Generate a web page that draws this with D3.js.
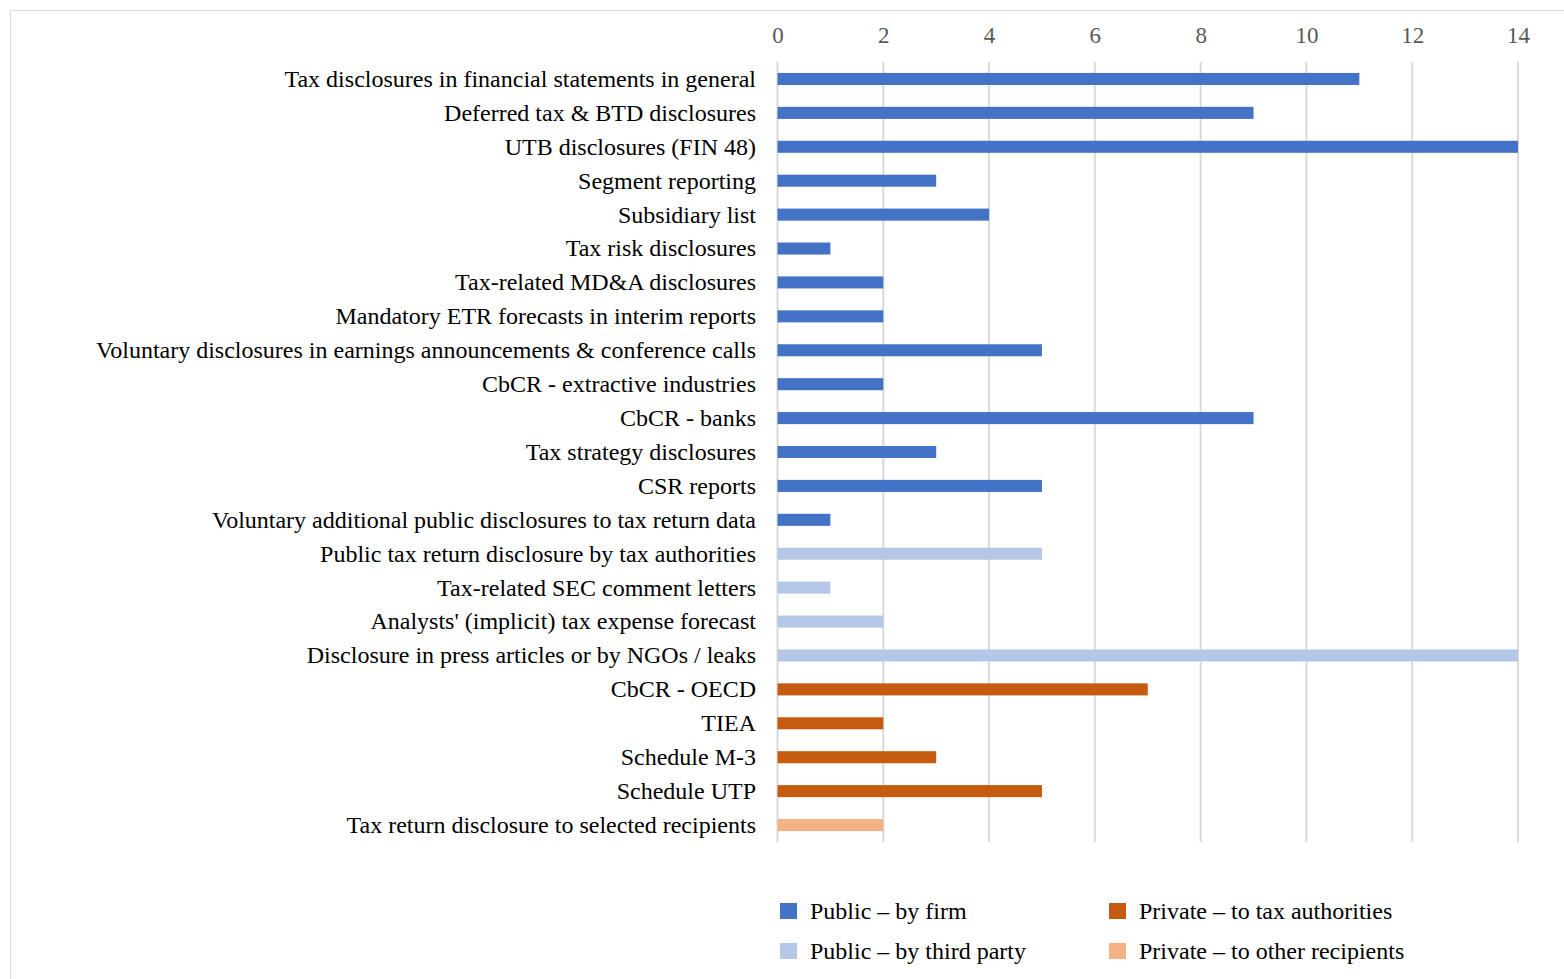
<!DOCTYPE html>
<html><head><meta charset="utf-8">
<script src="https://cdn.jsdelivr.net/npm/d3@7"></script>
<style>
body{margin:0;background:#fff;}
svg{display:block;}
text{font-family:"Liberation Serif","Times New Roman",serif;}
</style></head>
<body>
<svg id="c" width="1564" height="979"></svg>
<script>
const categories = [
 "Tax disclosures in financial statements in general",
 "Deferred tax & BTD disclosures",
 "UTB disclosures (FIN 48)",
 "Segment reporting",
 "Subsidiary list",
 "Tax risk disclosures",
 "Tax-related MD&A disclosures",
 "Mandatory ETR forecasts in interim reports",
 "Voluntary disclosures in earnings announcements & conference calls",
 "CbCR - extractive industries",
 "CbCR - banks",
 "Tax strategy disclosures",
 "CSR reports",
 "Voluntary additional public disclosures to tax return data",
 "Public tax return disclosure by tax authorities",
 "Tax-related SEC comment letters",
 "Analysts' (implicit) tax expense forecast",
 "Disclosure in press articles or by NGOs / leaks",
 "CbCR - OECD",
 "TIEA",
 "Schedule M-3",
 "Schedule UTP",
 "Tax return disclosure to selected recipients"
];
const values = [11,9,14,3,4,1,2,2,5,2,9,3,5,1,5,1,2,14,7,2,3,5,2];
const groups = ["firm","firm","firm","firm","firm","firm","firm","firm","firm","firm","firm","firm","firm","firm",
 "third","third","third","third","tax","tax","tax","tax","other"];
const seriesKeys = ["firm","third","tax","other"];
const seriesNames = ["Public – by firm","Public – by third party","Private – to tax authorities","Private – to other recipients"];
const seriesColors = ["#4472C4","#B4C7E7","#C55A11","#F4B183"];
const xTicks = [0,2,4,6,8,10,12,14];

const FONT = "Liberation Serif, Times New Roman, serif";
const svg = d3.select("#c");
// outer frame
svg.append("rect").attr("x",10.5).attr("y",10.5).attr("width",1600).attr("height",1000)
  .attr("fill","none").attr("stroke","#d9d9d9").attr("stroke-width",1);

const x = d3.scaleLinear().domain([0,14]).range([777.5,1518]);
const y = d3.scaleBand().domain(categories).range([62,842]).paddingInner(0.645).paddingOuter(0.3225);
const color = d3.scaleOrdinal().domain(seriesKeys).range(seriesColors);

// gridlines
svg.append("g").selectAll("line").data(xTicks).join("line")
  .attr("x1",d=>x(d)).attr("x2",d=>x(d)).attr("y1",62).attr("y2",842)
  .attr("stroke","#d9d9d9").attr("stroke-width",2);

// top axis labels
const ax = svg.append("g").attr("transform","translate(0,43)")
  .attr("font-family",FONT)
  .call(d3.axisTop(x).tickValues(xTicks).tickSize(0).tickPadding(0));
ax.attr("font-family",FONT).attr("font-size",23);
ax.select(".domain").remove();
ax.selectAll("text").attr("fill","#595959").attr("font-size",23).attr("font-family",FONT);

// bars
svg.append("g").selectAll("rect").data(categories).join("rect")
  .attr("x",x(0)).attr("y",d=>y(d))
  .attr("width",(d,i)=>x(values[i])-x(0)).attr("height",y.bandwidth())
  .attr("fill",(d,i)=>color(groups[i]));

// category labels
const ay = svg.append("g").attr("transform","translate(756,0)")
  .call(d3.axisLeft(y).tickSize(0).tickPadding(0));
ay.attr("font-family",FONT).attr("font-size",24);
ay.select(".domain").remove();
ay.selectAll("text").attr("fill","#000").attr("font-size",24)
  .attr("font-family",FONT).attr("dy","0.33em");

// legend
const legPos = [[780,911],[780,951],[1109,911],[1109,951]];
const leg = svg.append("g").selectAll("g").data(seriesKeys).join("g")
  .attr("transform",(d,i)=>`translate(${legPos[i][0]},${legPos[i][1]})`);
leg.append("rect").attr("x",0).attr("y",-8).attr("width",17).attr("height",16).attr("fill",d=>color(d));
leg.append("text").attr("x",30).attr("y",0).attr("dy","0.33em").attr("font-size",24).attr("font-family",FONT).attr("fill","#000")
  .text((d,i)=>seriesNames[i]);
</script>
</body></html>
